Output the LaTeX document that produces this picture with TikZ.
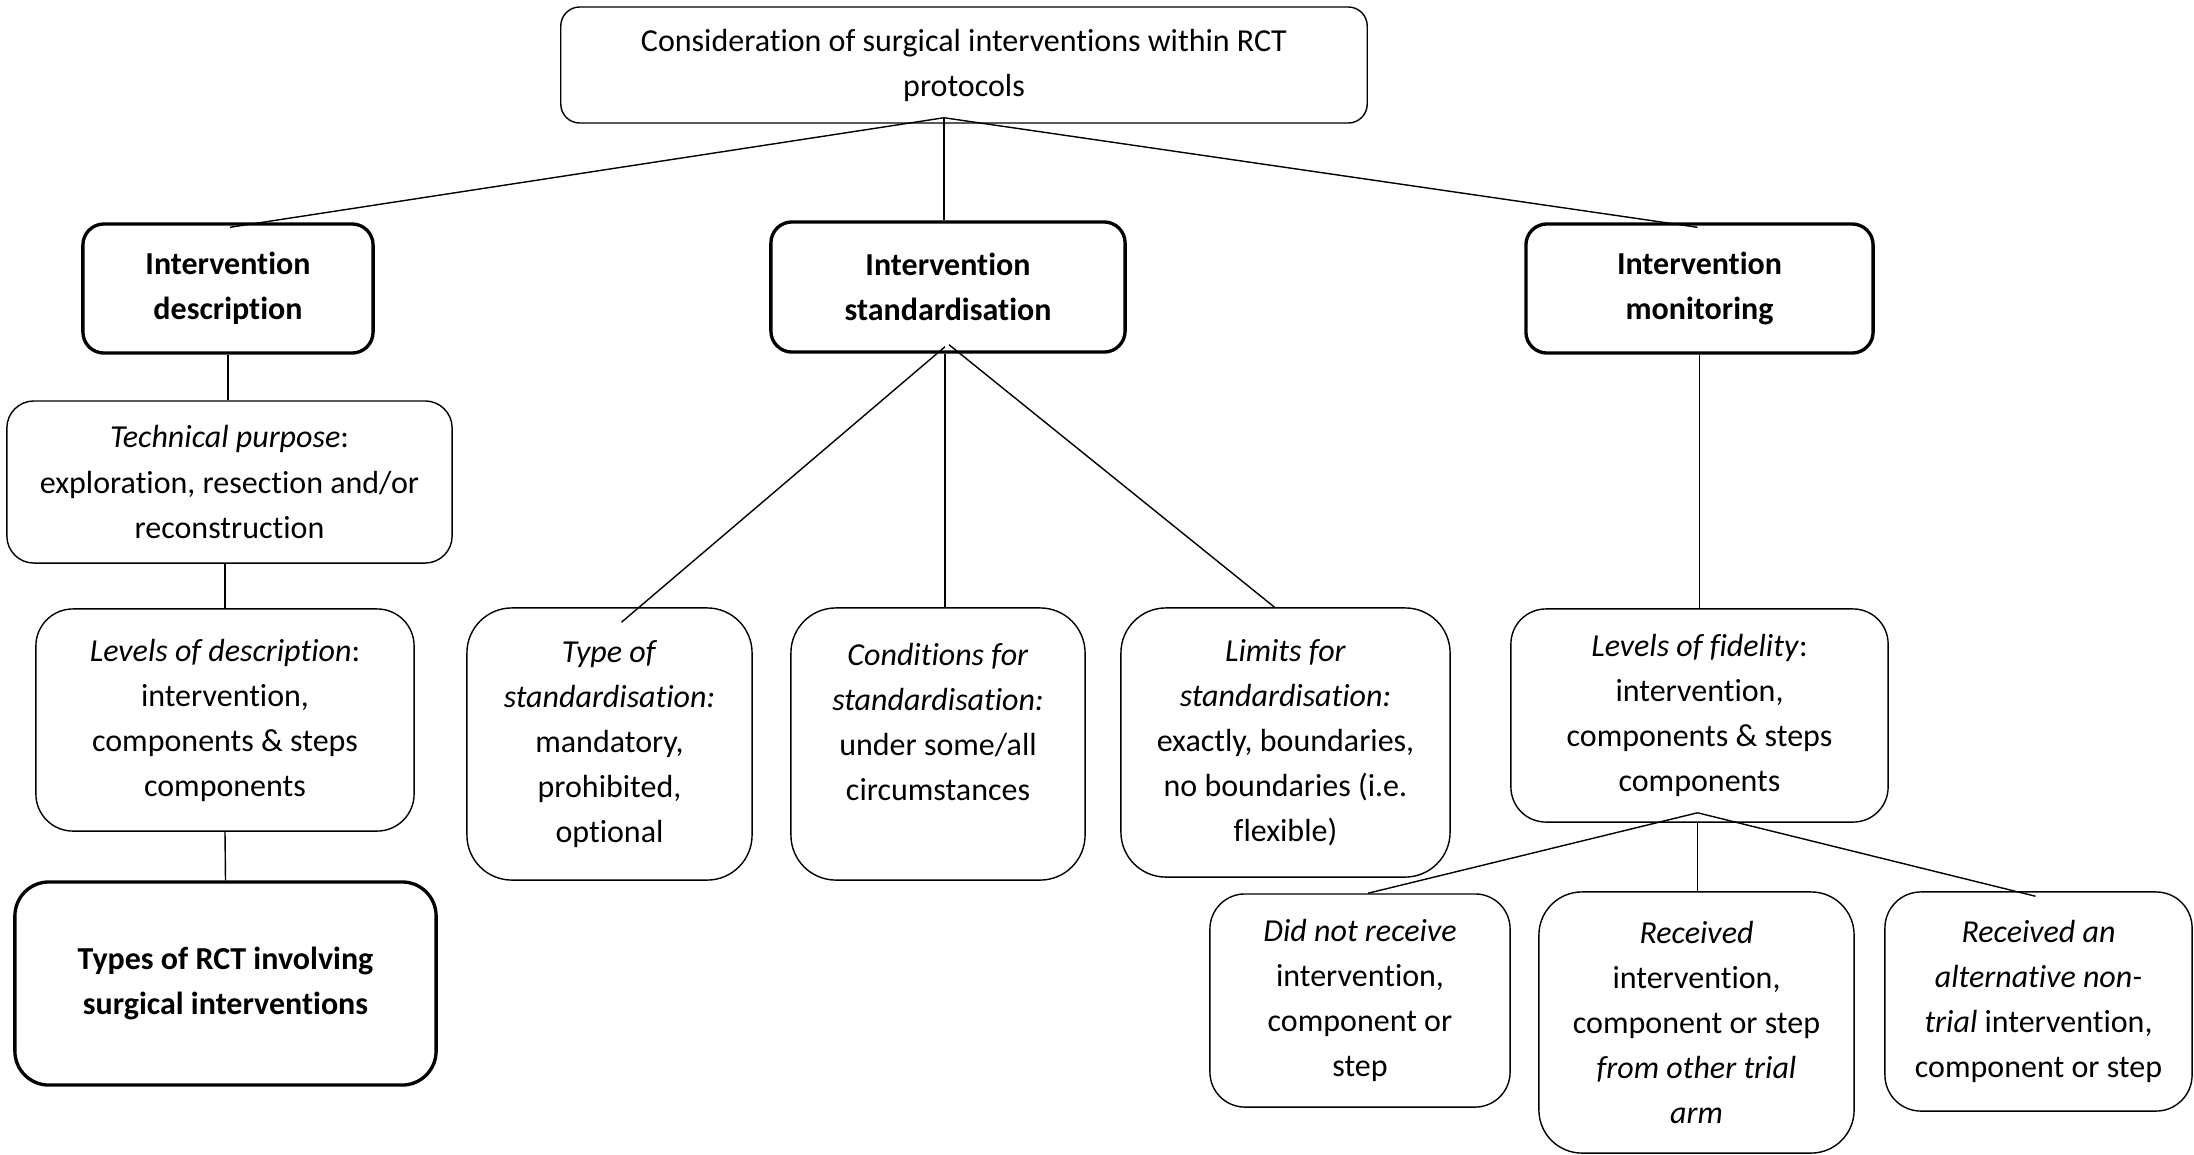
\documentclass[tikz,border=0pt]{standalone}
\usepackage{fontspec}
\setmainfont{Carlito}[Ligatures=NoCommon]
\usepackage{tikz}
\usetikzlibrary{positioning,calc}
\newcommand{\fsz}{\fontsize{9.1pt}{12.8pt}\selectfont}
\tikzset{
  bx/.style={draw, align=center, font=\fsz, inner sep=2pt, line width=0.4pt},
  bxthick/.style={bx, line width=0.95pt},
  ln/.style={draw=black, line width=0.4pt},
}

\begin{document}
\begin{tikzpicture}[x=0.01cm, y=-0.01cm]
  \useasboundingbox (0,0) rectangle (2194,1154);
  % top level
  \node[bx, rounded corners=0.19cm, minimum width=8.06cm, minimum height=1.16cm] (top) at (964,65)
    {Consideration of surgical interventions within RCT\\protocols};
  \node[bxthick, font=\fsz\bfseries, rounded corners=0.21cm, minimum width=2.9cm, minimum height=1.29cm] (desc) at (228,288.5)
    {Intervention\\description};
  \node[bxthick, font=\fsz\bfseries, rounded corners=0.21cm, minimum width=3.54cm, minimum height=1.3cm] (std) at (948,287)
    {Intervention\\standardisation};
  \node[bxthick, font=\fsz\bfseries, rounded corners=0.21cm, minimum width=3.47cm, minimum height=1.29cm] (mon) at (1699.5,288.5)
    {Intervention\\monitoring};
  % description column
  \node[bx, rounded corners=0.27cm, minimum width=4.45cm, minimum height=1.62cm] (tech) at (229.5,482)
    {\textit{Technical purpose}:\\exploration, resection and/or\\reconstruction};
  \node[bx, rounded corners=0.37cm, minimum width=3.78cm, minimum height=2.22cm] (lvldesc) at (225,720)
    {\textit{Levels of description}:\\intervention,\\components \& steps\\components};
  \node[bxthick, font=\fsz\bfseries, rounded corners=0.34cm, minimum width=4.21cm, minimum height=2.03cm] (types) at (225.5,983.5)
    {Types of RCT involving\\surgical interventions};
  % standardisation column
  \node[bx, rounded corners=0.45cm, minimum width=2.85cm, minimum height=2.72cm] (typestd) at (609.5,744)
    {\textit{Type of}\\\textit{standardisation:}\\mandatory,\\prohibited,\\optional};
  \node[bx, rounded corners=0.45cm, minimum width=2.94cm, minimum height=2.72cm] (cond) at (938,744)
    {\textit{Conditions for}\\\textit{standardisation:}\\under some/all\\circumstances\\~};
  \node[bx, rounded corners=0.45cm, minimum width=3.29cm, minimum height=2.69cm] (limits) at (1285.5,742.5)
    {\textit{Limits for}\\\textit{standardisation:}\\exactly, boundaries,\\no boundaries (i.e.\\flexible)};
  % monitoring column
  \node[bx, rounded corners=0.35cm, minimum width=3.77cm, minimum height=2.13cm] (fid) at (1699.5,715.5)
    {\textit{Levels of fidelity}:\\intervention,\\components \& steps\\components};
  \node[bx, rounded corners=0.35cm, minimum width=3.0cm, minimum height=2.13cm] (dnr) at (1360,1000.5)
    {\textit{Did not receive}\\intervention,\\component or\\step};
  \node[bx, rounded corners=0.43cm, minimum width=3.15cm, minimum height=2.61cm] (recv) at (1696.5,1022.5)
    {\textit{Received}\\intervention,\\component or step\\\textit{from other trial}\\\textit{arm}};
  \node[bx, rounded corners=0.36cm, minimum width=3.07cm, minimum height=2.19cm] (alt) at (2038.5,1001.5)
    {\textit{Received an}\\\textit{alternative non-}\\\textit{trial} intervention,\\component or step};

  % connectors
  \coordinate (tj) at ($(top.south)+(-20,-6)$);
  \draw[ln] (tj) -- ($(desc.north)+(2,5)$);
  \draw[ln] (tj) -- (tj |- std.north);
  \draw[ln] (tj) -- ($(mon.north)+(-2,5)$);

  \draw[ln] (desc.south) -- (desc.south |- tech.north);
  \draw[ln] (tech.south -| lvldesc.north) -- (lvldesc.north);
  \draw[ln] (lvldesc.south) -- (types.north);

  \coordinate (sj) at ($(std.south)+(-3,-7)$);
  \draw[ln] (sj) -- ($(typestd.north)+(12,15)$);
  \draw[ln] (sj |- std.south) -- (sj |- cond.north);
  \draw[ln] ($(sj)+(4,-2)$) -- ($(limits.north)+(-11,0)$);

  \draw[ln] (mon.south) -- (fid.north);
  \coordinate (fj) at ($(fid.south)+(-2,-10)$);
  \draw[ln] (fj) -- ($(dnr.north)+(8,0)$);
  \draw[ln] (fj |- fid.south) -- (fj |- recv.north);
  \draw[ln] (fj) -- ($(alt.north)+(-3,5)$);
\end{tikzpicture}
\end{document}
